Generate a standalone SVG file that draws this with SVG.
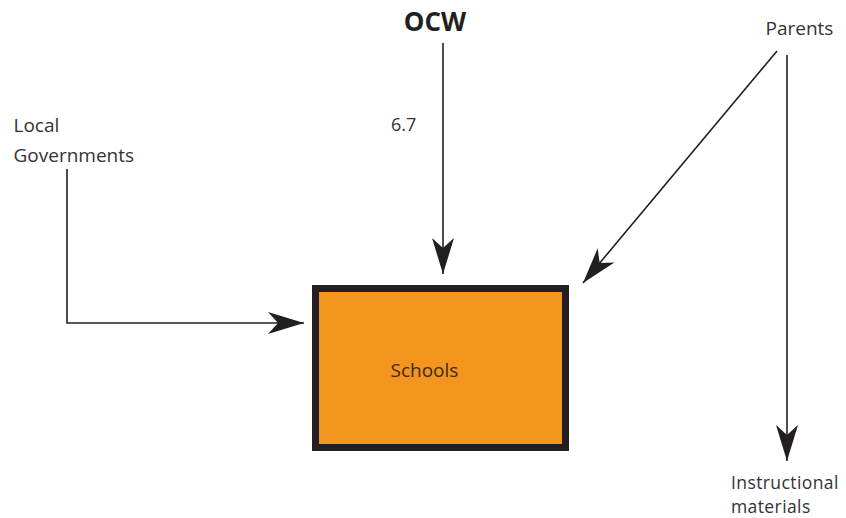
<svg xmlns="http://www.w3.org/2000/svg" width="846" height="518" viewBox="0 0 846 518">
<style>
.lbl{font-family:"Open Sans","Noto Sans","Liberation Sans",sans-serif;font-size:19px;fill:#333333}
.small{font-size:17.5px;letter-spacing:0.4px}
.ocw{font-family:"Open Sans","Noto Sans","Liberation Sans",sans-serif;font-size:26px;font-weight:bold;fill:#231f20}
.conn{fill:none;stroke:#231f20;stroke-width:1.6}
</style>
<defs>
<marker id="arr" markerUnits="userSpaceOnUse" markerWidth="36" markerHeight="22" refX="36" refY="11" orient="auto" viewBox="0 0 36 22">
<path d="M0,0 L36,11 L0,22 L10,11 Z" fill="#231f20"/>
</marker>
</defs>
<rect width="846" height="518" fill="#ffffff"/>
<g id="connectors">
<line class="conn" x1="443" y1="43" x2="443" y2="274" marker-end="url(#arr)"/>
<polyline class="conn" points="67,169 67,323 304,323" marker-end="url(#arr)"/>
<line class="conn" x1="777" y1="51" x2="583" y2="283" marker-end="url(#arr)"/>
<line class="conn" x1="787" y1="55" x2="787" y2="461" marker-end="url(#arr)"/>
<text class="lbl" x="391" y="131" style="font-size:18px">6.7</text>
</g>
<g id="ocw">
<text class="ocw" x="435" y="31" text-anchor="middle">OCW</text>
</g>
<g id="local-governments">
<text class="lbl" x="13.5" y="132">Local</text>
<text class="lbl" x="13.5" y="162">Governments</text>
</g>
<g id="parents">
<text class="lbl" x="765.5" y="35">Parents</text>
</g>
<g id="instructional-materials">
<text class="lbl small" x="731" y="488.5">Instructional</text>
<text class="lbl small" x="731" y="512.5">materials</text>
</g>
<g id="schools">
<rect x="315.5" y="288.5" width="250" height="159" fill="#f4951f" stroke="#231f20" stroke-width="7"/>
<text class="lbl" x="390.5" y="377" style="fill:#3a2a12">Schools</text>
</g>
</svg>
